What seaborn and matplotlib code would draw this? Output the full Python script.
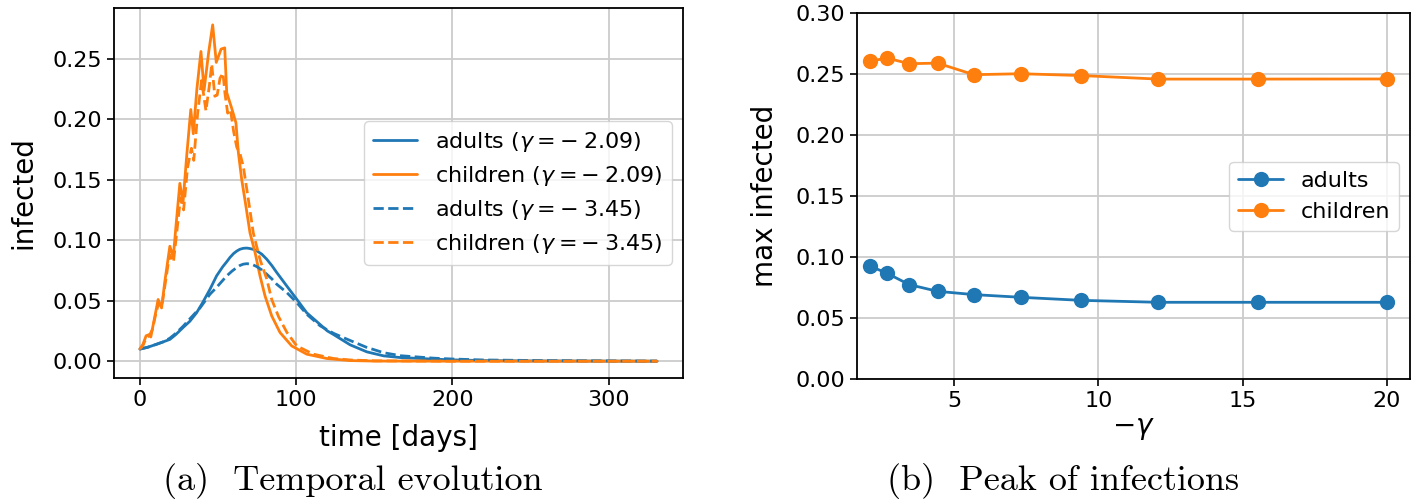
import numpy as np
import pandas as pd
import matplotlib
matplotlib.use("Agg")
import matplotlib.pyplot as plt
import seaborn as sns

# ---------------- data: panel (a) temporal evolution ----------------
t_child_209 = [0, 2, 4, 6, 7, 9, 11.7, 13.9, 16, 19.2, 21.4, 23, 25.6, 27.6, 30, 32.6,
               34.2, 36.5, 39.1, 41.1, 44, 46.6, 48.9, 52, 54.3, 55.6, 58.8, 61.5, 63,
               65.2, 67.3, 70.5, 73.7, 76.9, 80.1, 84.4, 89.7, 97.2, 106.8, 119.7,
               134.6, 150, 200, 250, 331]
v_child_209 = [0.010, 0.014, 0.021, 0.022, 0.020, 0.033, 0.051, 0.044, 0.066, 0.095,
               0.086, 0.110, 0.147, 0.131, 0.170, 0.208, 0.188, 0.225, 0.256, 0.224,
               0.255, 0.278, 0.247, 0.258, 0.259, 0.222, 0.209, 0.197, 0.173, 0.150,
               0.133, 0.106, 0.090, 0.0705, 0.054, 0.0374, 0.0237, 0.0126, 0.0058,
               0.0022, 0.0005, 0.0001, 0.0, 0.0, 0.0]

t_child_345 = [0, 2, 4, 6, 8, 10, 12, 14, 16, 19, 21.5, 23.5, 26, 28, 30.5, 33, 34.5,
               37, 39.5, 42.3, 44.5, 46, 48, 49.5, 51.3, 53.2, 54.5, 56.2, 58, 60, 62,
               64, 66.2, 69.4, 72.6, 76.9, 81.2, 84.4, 88.7, 94, 100.4, 111, 123.9,
               134.6, 150, 200, 250, 331]
v_child_345 = [0.010, 0.013, 0.019, 0.021, 0.026, 0.038, 0.048, 0.045, 0.062, 0.088,
               0.082, 0.105, 0.135, 0.125, 0.160, 0.176, 0.166, 0.205, 0.232, 0.207,
               0.228, 0.2455, 0.219, 0.220, 0.234, 0.238, 0.221, 0.205, 0.208, 0.190,
               0.177, 0.172, 0.161, 0.134, 0.106, 0.084, 0.068, 0.051, 0.037, 0.024,
               0.0126, 0.0058, 0.0022, 0.0010, 0.0003, 0.0, 0.0, 0.0]

t_adult_209 = [0, 5, 10.7, 15, 19.2, 23, 27.8, 32, 36.3, 40, 44.9, 49.1, 53, 55.6, 57.7,
               60, 62, 64, 66.2, 68.4, 70, 72.5, 74.8, 78, 81.2, 84.5, 87.6, 94, 100.4,
               106.8, 113, 120, 124, 134.6, 145.3, 156, 166.7, 188, 200, 220, 250, 290, 331]
v_adult_209 = [0.010, 0.0115, 0.014, 0.016, 0.018, 0.022, 0.028, 0.033, 0.040, 0.048,
               0.0595, 0.0705, 0.078, 0.0822, 0.0858, 0.0890, 0.0910, 0.0925, 0.0933,
               0.0935, 0.0932, 0.0925, 0.0912, 0.0885, 0.0843, 0.0790, 0.0733, 0.0622,
               0.0512, 0.040, 0.033, 0.025, 0.022, 0.0135, 0.0077, 0.0044, 0.0030,
               0.0017, 0.0011, 0.0005, 0.0002, 0.0001, 0.0]

t_adult_345 = [0, 5, 10.7, 15, 19.2, 23, 27.8, 32, 38.5, 44.9, 49.1, 52.5, 55.6, 59,
               62, 64, 66.2, 68.4, 70, 72.5, 74.8, 78, 81.2, 84.5, 87.6, 94, 100.4, 106.8,
               115.4, 124, 132, 145, 156, 167, 188, 200, 220, 250, 290, 331]
v_adult_345 = [0.010, 0.0115, 0.014, 0.016, 0.019, 0.023, 0.029, 0.035, 0.044, 0.0554,
               0.061, 0.0660, 0.0705, 0.0745, 0.0774, 0.0791, 0.0802, 0.0806, 0.0804,
               0.0796, 0.0782, 0.0755, 0.0719, 0.0680, 0.0636, 0.0568, 0.0485, 0.0388,
               0.0292, 0.023, 0.0185, 0.0115, 0.0070, 0.0045, 0.0025, 0.0018, 0.0010,
               0.0006, 0.0003, 0.0001]

labels_a = [r"adults ($\gamma = -\:2.09$)", r"children ($\gamma = -\:2.09$)",
            r"adults ($\gamma = -\:3.45$)", r"children ($\gamma = -\:3.45$)"]

# ---------------- data: panel (b) peak of infections ----------------
neg_gamma = [2.09, 2.69, 3.45, 4.43, 5.69, 7.31, 9.40, 12.08, 15.54, 20.0]
max_adults = [0.0926, 0.0866, 0.0774, 0.0719, 0.0692, 0.0670, 0.0645, 0.0629, 0.0629, 0.0629]
max_children = [0.2607, 0.2631, 0.2585, 0.2590, 0.2495, 0.2503, 0.2488, 0.2459, 0.2459, 0.2460]

BLUE = "#1f77b4"
ORANGE = "#ff7f0e"

# ---------------- style ----------------
sns.set_theme(style="ticks")
plt.rcParams["font.family"] = ["DejaVu Sans"]
plt.rcParams["mathtext.fontset"] = "dejavusans"
plt.rcParams["axes.edgecolor"] = "black"
plt.rcParams["xtick.color"] = "black"
plt.rcParams["ytick.color"] = "black"
plt.rcParams["axes.labelcolor"] = "black"
plt.rcParams["text.color"] = "black"

fig = plt.figure(figsize=(14.16, 5.04), dpi=100)
ax1 = fig.add_axes([0.0805, 0.25, 0.4018, 0.734])
ax2 = fig.add_axes([0.6052, 0.248, 0.3906, 0.726])

# ---------------- panel (a) ----------------
frames = []
for lab, t, v in zip(labels_a,
                     [t_adult_209, t_child_209, t_adult_345, t_child_345],
                     [v_adult_209, v_child_209, v_adult_345, v_child_345]):
    frames.append(pd.DataFrame({"t": t, "val": v, "series": lab}))
df_a = pd.concat(frames, ignore_index=True)

palette_a = {labels_a[0]: BLUE, labels_a[1]: ORANGE, labels_a[2]: BLUE, labels_a[3]: ORANGE}
dashes_a = {labels_a[0]: "", labels_a[1]: "", labels_a[2]: (3.7, 1.6), labels_a[3]: (3.7, 1.6)}

sns.lineplot(data=df_a, x="t", y="val", hue="series", style="series",
             hue_order=labels_a, style_order=labels_a,
             palette=palette_a, dashes=dashes_a, estimator=None, sort=False,
             linewidth=2.0, ax=ax1)

h, l = ax1.get_legend_handles_labels()
ax1.legend(h, l, loc="center right", fontsize=16, frameon=True,
           handlelength=2.0, borderpad=0.4, labelspacing=0.45)

ax1.set_xticks([0, 100, 200, 300])
ax1.set_yticks([0.0, 0.05, 0.10, 0.15, 0.20, 0.25])
ax1.yaxis.set_major_formatter(matplotlib.ticker.FormatStrFormatter("%.2f"))
ax1.set_xlabel("time [days]", fontsize=20, labelpad=10)
ax1.set_ylabel("infected", fontsize=20, labelpad=11)

# ---------------- panel (b) ----------------
df_b = pd.concat([
    pd.DataFrame({"g": neg_gamma, "val": max_adults, "group": "adults"}),
    pd.DataFrame({"g": neg_gamma, "val": max_children, "group": "children"}),
], ignore_index=True)

sns.lineplot(data=df_b, x="g", y="val", hue="group", hue_order=["adults", "children"],
             palette={"adults": BLUE, "children": ORANGE}, marker="o",
             markersize=11, markeredgewidth=0, linewidth=2.0, estimator=None, ax=ax2)
h, l = ax2.get_legend_handles_labels()
ax2.legend(h, l, loc="center right", fontsize=16, frameon=True, handlelength=2.0)

ax2.set_xlim(1.64, 20.8)
ax2.set_ylim(0.0, 0.30)
ax2.set_xticks([5, 10, 15, 20])
ax2.set_yticks([0.0, 0.05, 0.10, 0.15, 0.20, 0.25, 0.30])
ax2.yaxis.set_major_formatter(matplotlib.ticker.FormatStrFormatter("%.2f"))
ax2.set_xlabel(r"$-\gamma$", fontsize=20, labelpad=2)
ax2.set_ylabel("max infected", fontsize=20, labelpad=12)

for ax in (ax1, ax2):
    ax.grid(True, color="#cccccc", linewidth=1.3)
    ax.set_axisbelow(True)
    for s in ax.spines.values():
        s.set_visible(True)
        s.set_color("black")
        s.set_linewidth(1.3)
    ax.tick_params(labelsize=16, length=5, width=1.2)

fig.text(0.249, 0.046, "(a)  Temporal evolution", family="cmr10", fontsize=26,
         ha="center", va="center")
fig.text(0.751, 0.046, "(b)  Peak of infections", family="cmr10", fontsize=26,
         ha="center", va="center")

fig.savefig("out.png", dpi=100)
